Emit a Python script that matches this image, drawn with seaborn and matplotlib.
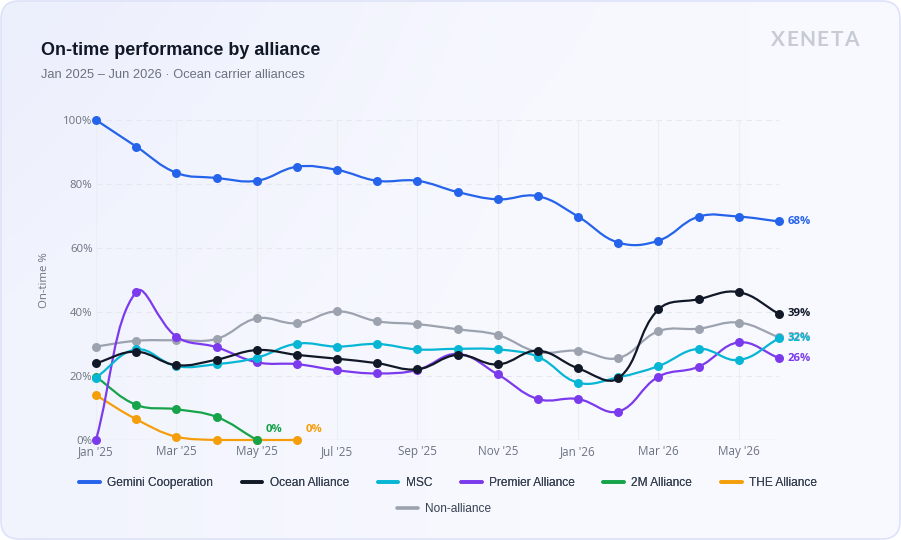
#!/usr/bin/env python3
"""On-time performance by alliance - smoothed line chart."""

import numpy as np
import pandas as pd
import matplotlib
matplotlib.use("Agg")
import matplotlib.pyplot as plt
import seaborn as sns
from matplotlib.path import Path
from matplotlib.patches import PathPatch, FancyBboxPatch
from matplotlib.lines import Line2D
from matplotlib.transforms import IdentityTransform

sns.set_theme(style="white")

# =============================================================================
# Data
# =============================================================================
months = ["Jan '25", "Feb '25", "Mar '25", "Apr '25", "May '25", "Jun '25",
          "Jul '25", "Aug '25", "Sep '25", "Oct '25", "Nov '25", "Dec '25",
          "Jan '26", "Feb '26", "Mar '26", "Apr '26", "May '26", "Jun '26"]

gemini = [100.0, 91.7, 83.5, 81.9, 81.0, 85.4, 84.4, 81.0, 81.0, 77.5, 75.2, 76.2,
          69.8, 61.7, 62.3, 69.8, 69.8, 68.3]
ocean = [24.0, 27.6, 23.4, 25.1, 28.1, 26.6, 25.4, 24.0, 22.1, 26.6, 23.6, 27.9,
         22.4, 19.3, 40.8, 44.0, 46.2, 39.4]
msc = [19.5, 28.3, 23.1, 23.7, 25.7, 30.1, 29.2, 30.0, 28.3, 28.5, 28.3, 26.0,
       17.9, 19.6, 23.1, 28.5, 25.0, 31.8]
premier = [0.0, 46.3, 32.3, 29.0, 24.3, 23.7, 21.8, 20.8, 21.9, 26.9, 20.5, 12.8,
           12.8, 8.9, 19.8, 22.9, 30.5, 25.6]
two_m = [19.7, 11.0, 9.6, 7.2, 0.0] + [None] * 13
the_alliance = [14.0, 6.5, 1.0, 0.0, 0.0, 0.0] + [None] * 12
non_alliance = [29.2, 31.0, 31.2, 31.6, 38.0, 36.5, 40.2, 37.1, 36.2, 34.6, 32.8, 27.5,
                27.9, 25.6, 34.0, 34.8, 36.7, 32.1]

names = ["Gemini Cooperation", "Ocean Alliance", "MSC", "Premier Alliance",
         "2M Alliance", "THE Alliance", "Non-alliance"]
values = [gemini, ocean, msc, premier, two_m, the_alliance, non_alliance]
colors = ["#2563eb", "#111827", "#06b6d4", "#7c3aed", "#16a34a", "#f59e0b", "#9ca3af"]

y_ticks = [0, 20, 40, 60, 80, 100]

# long-form table
rows = []
for name, vals in zip(names, values):
    for i, v in enumerate(vals):
        if v is not None:
            rows.append({"alliance": name, "month": i, "pct": v})
df = pd.DataFrame(rows)


def smooth_path(ax, xs, ys, tension=0.4):
    """Cubic bezier through the points (Chart.js style), built in display space."""
    pts = ax.transData.transform(np.column_stack([xs, ys]))
    n = len(pts)
    prev_cp = pts.copy()
    next_cp = pts.copy()
    for i in range(n):
        p0 = pts[i - 1] if i > 0 else pts[i]
        p1 = pts[i]
        p2 = pts[i + 1] if i < n - 1 else pts[i]
        d01 = np.hypot(*(p1 - p0))
        d12 = np.hypot(*(p2 - p1))
        tot = d01 + d12
        s01 = d01 / tot if tot else 0
        s12 = d12 / tot if tot else 0
        prev_cp[i] = p1 - tension * s01 * (p2 - p0)
        next_cp[i] = p1 + tension * s12 * (p2 - p0)
    bb = ax.bbox
    for cp in (prev_cp, next_cp):
        cp[:, 0] = np.clip(cp[:, 0], bb.x0, bb.x1)
        cp[:, 1] = np.clip(cp[:, 1], bb.y0, bb.y1)
    verts = [pts[0]]
    codes = [Path.MOVETO]
    for i in range(n - 1):
        verts += [next_cp[i], prev_cp[i + 1], pts[i + 1]]
        codes += [Path.CURVE4] * 3
    verts = ax.transData.inverted().transform(np.array(verts))
    return Path(verts, codes)


# =============================================================================
# Figure + card background
# =============================================================================
W, H = 901, 540
fig = plt.figure(figsize=(W / 100, H / 100), dpi=100, facecolor="white")

bg = fig.add_axes([0, 0, 1, 1], zorder=-10)
bg.axis("off")
gx, gy = np.meshgrid(np.arange(W), np.arange(H))
t = np.clip(1 - gx / 520.0, 0, 1) * 0.55 + \
    np.clip(1 - gy / 320.0, 0, 1) * np.clip(1 - gx / 750.0, 0, 1) * 0.5
t = np.clip(t, 0, 1)
base = np.array([248, 249, 255]) / 255.0
lav = np.array([236, 239, 252]) / 255.0
grad = base + (lav - base) * t[..., None]
img = bg.imshow(grad, extent=(0, W, H, 0), aspect="auto")
bg.set_xlim(0, W)
bg.set_ylim(H, 0)
card = FancyBboxPatch((1, 1), W - 2, H - 2, boxstyle="round,pad=0,rounding_size=18",
                      transform=IdentityTransform(), facecolor="none",
                      edgecolor="#dde2f8", linewidth=1.2)
fig.patches.append(card)
img.set_clip_path(card)

# =============================================================================
# Plot
# =============================================================================
ax = fig.add_axes([96 / W, 100 / H, (779 - 96) / W, 320 / H])
ax.set_facecolor("none")
ax.set_xlim(0, len(months) - 1)
ax.set_ylim(0, 100)
for s in ax.spines.values():
    s.set_visible(False)

# grid
for v in y_ticks[1:]:
    ax.axhline(v, color="#e6e8f0", lw=0.8, ls=(0, (5, 4)), zorder=0)
ax.axhline(0, color="#e3e6ed", lw=1.0, zorder=0)
for i in range(0, len(months) - 1, 2):
    ax.axvline(i, color="#eceef4", lw=0.8, zorder=0)

tick_font = "Open Sans"
ax.set_xticks(range(0, len(months), 2))
ax.set_xticklabels(months[::2], fontsize=8.4, color="#6b7280", family=tick_font)
ax.set_yticks(y_ticks)
ax.set_yticklabels([f"{v}%" for v in y_ticks], fontsize=8.2, color="#6b7280", family=tick_font)
ax.tick_params(axis="both", length=0)
ax.tick_params(axis="x", pad=3.5)
ax.tick_params(axis="y", pad=2.5)

# series - first dataset on top
n_series = len(names)
for k, (name, color) in enumerate(zip(names, colors)):
    sub = df[df["alliance"] == name]
    z = 10 + (n_series - k) * 2
    path = smooth_path(ax, sub["month"].values, sub["pct"].values)
    ax.add_patch(PathPatch(path, facecolor="none", edgecolor=color, lw=1.6,
                           zorder=z, clip_on=False, capstyle="round", joinstyle="round"))
    sns.scatterplot(data=sub, x="month", y="pct", color=color, s=42, linewidth=0,
                    ax=ax, zorder=z + 1, clip_on=False, legend=False)

    last = sub.iloc[-1]
    if last["month"] < len(months) - 1:
        off = (6.5, 7.5)
    else:
        off = (6.0, 0)
    ax.annotate(f"{last['pct']:.0f}%", xy=(last["month"], last["pct"]), xytext=off,
                textcoords="offset points", ha="left", va="center", fontsize=8.2,
                fontweight="bold", color=color, family=tick_font, zorder=30 + (n_series - k),
                annotation_clip=False)

ax.set_xlabel("")
ax.set_ylabel("On-time %", fontsize=8.2, color="#6b7280", family=tick_font)
ax.yaxis.set_label_coords(-0.067, 0.5)

# =============================================================================
# Titles, logo, legend
# =============================================================================
fig.text(41 / W, 1 - 55 / H, "On-time performance by alliance", fontsize=13.0,
         fontweight="bold", color="#111827", family="Liberation Sans", va="baseline")
fig.text(41 / W, 1 - 77.5 / H, "Jan 2025 \u2013 Jun 2026 \u00b7 Ocean carrier alliances",
         fontsize=9.3, color="#6b7280", family="Liberation Sans", va="baseline")

for i, ch in enumerate("XENETA"):
    fig.text((777.5 + 14.8 * i) / W, 1 - 46 / H, ch, fontsize=15, fontweight="bold",
             color="#c6cbd4", family="Lato", ha="center", va="baseline")

handles = [Line2D([0], [0], color=c, lw=2.6) for c in colors]
leg_kw = dict(frameon=False, handlelength=1.75, handletextpad=0.6,
              prop={"family": "Liberation Sans", "size": 8.6}, labelcolor="#374151",
              loc="center")
leg1 = fig.legend(handles[:6], names[:6], ncol=6, columnspacing=2.4,
                  bbox_to_anchor=(448 / W, 1 - 483 / H), **leg_kw)
leg2 = fig.legend(handles[6:], names[6:], ncol=1,
                  bbox_to_anchor=(444 / W, 1 - 509 / H), **leg_kw)
fig.add_artist(leg1)

plt.savefig("out.png", dpi=100, facecolor="white")
plt.close()
print("saved out.png")
